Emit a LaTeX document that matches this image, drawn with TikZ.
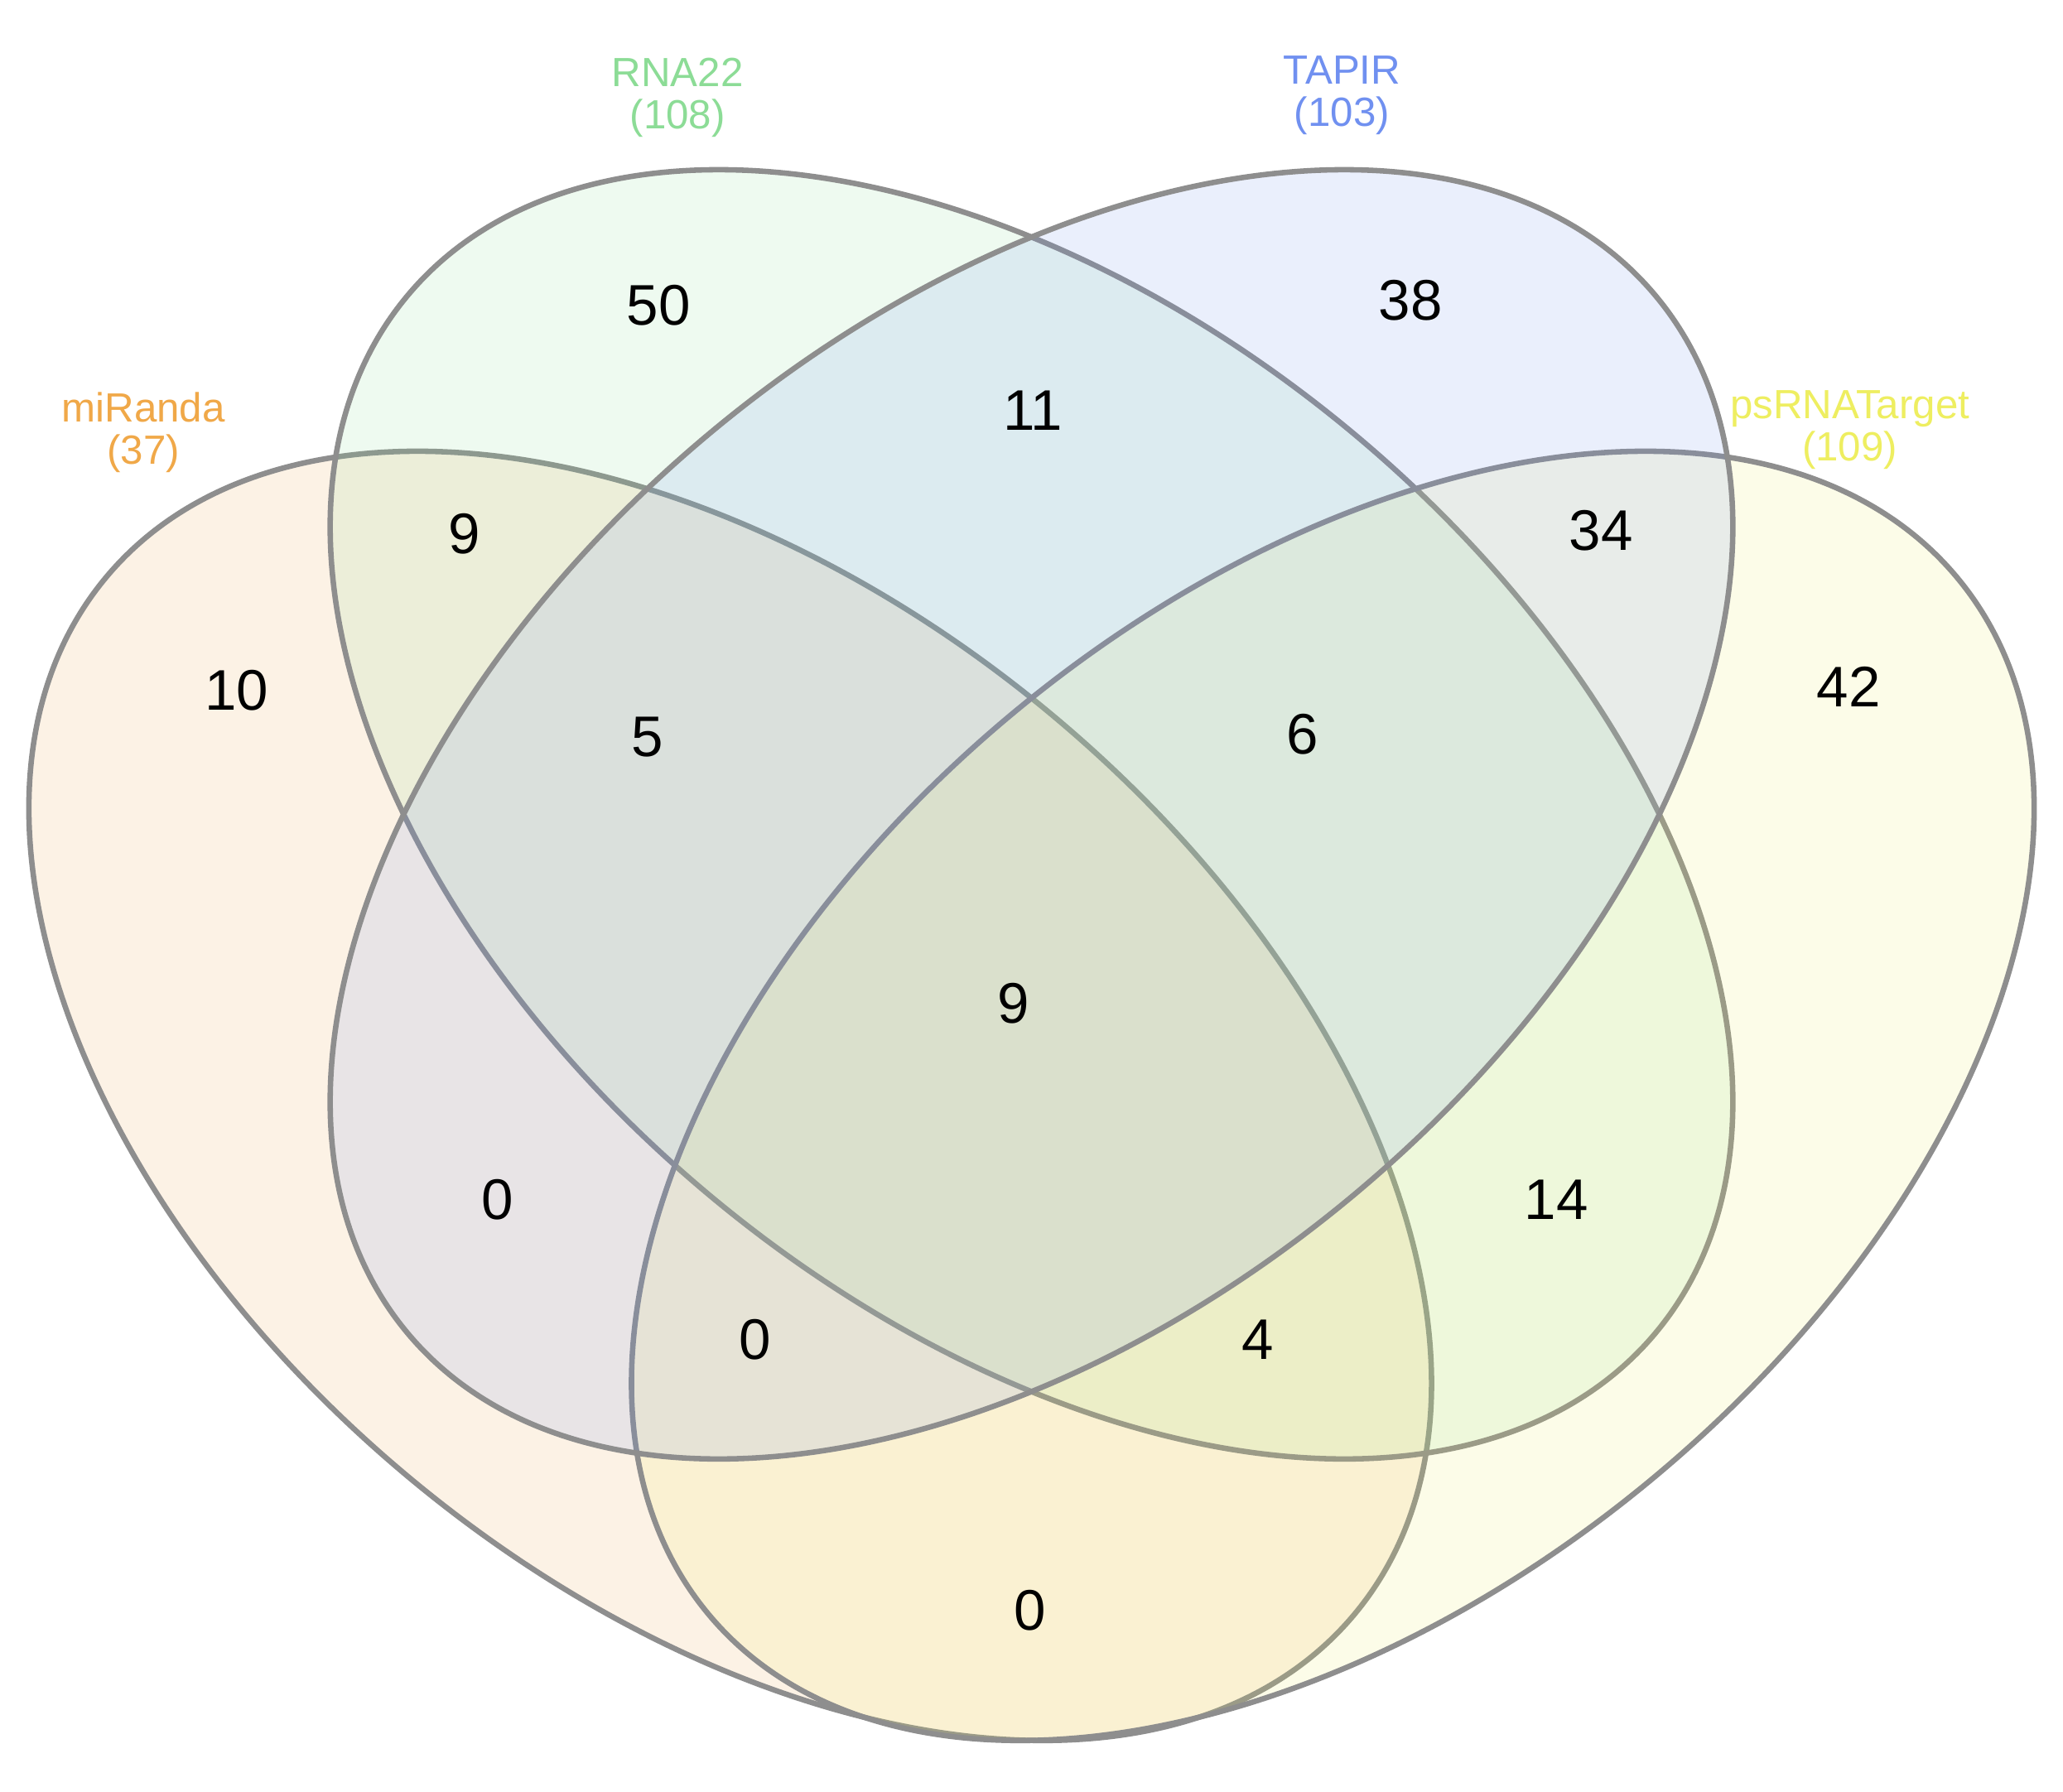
\documentclass[tikz,border=0pt]{standalone}
\usepackage{fontspec}
\setmainfont{Liberation Sans}
\definecolor{cOrange}{RGB}{240,168,72}
\definecolor{cGreen}{RGB}{140,220,150}
\definecolor{cBlue}{RGB}{112,144,240}
\definecolor{cYellow}{RGB}{238,238,96}
\definecolor{cStroke}{RGB}{142,142,142}
\begin{document}
\begin{tikzpicture}[x=0.4pt,y=0.4pt,
  setline/.style={draw=cStroke, line width=1.65pt},
  num/.style={inner sep=0pt, font=\fontsize{17.4}{20}\selectfont, text=black},
  lab/.style={inner sep=0pt, align=center, font=\fontsize{12.4}{12.8}\selectfont, anchor=base}]
\useasboundingbox (0,0) rectangle (1568,-1361.6);
\fill[white] (0,0) rectangle (1568,-1361.6);
% miRanda
\begin{scope}[shift={(555,-833)}, rotate=-39.65]
  \draw[setline, fill=cOrange, fill opacity=0.14] (0,0) ellipse [x radius=616.8, y radius=379.1];
\end{scope}
% RNA22
\begin{scope}[shift={(784,-619)}, rotate=-39.65]
  \draw[setline, fill=cGreen, fill opacity=0.14] (0,0) ellipse [x radius=616.8, y radius=379.1];
\end{scope}
% psRNATarget
\begin{scope}[shift={(1013,-833)}, rotate=39.65]
  \draw[setline, fill=cYellow, fill opacity=0.14] (0,0) ellipse [x radius=616.8, y radius=379.1];
\end{scope}
% TAPIR
\begin{scope}[shift={(784,-619)}, rotate=39.65]
  \draw[setline, fill=cBlue, fill opacity=0.14] (0,0) ellipse [x radius=616.8, y radius=379.1];
\end{scope}
% set labels (anchor at the baseline of the second line)
\node[lab, text=cGreen] (labRNA) at (515,-98) {RNA22\\(108)};
\node[lab, text=cBlue] (labTAPIR) at (1020,-96) {TAPIR\\(103)};
\node[lab, text=cOrange] (labmiR) at (109,-353) {miRanda\\(37)};
\node[lab, text=cYellow] (labps) at (1406,-350) {psRNATarget\\(109)};
% region counts
\node[num] (n50) at (500.5,-232) {50};
\node[num] (n38) at (1072,-228) {38};
\node[num] (n11) at (785,-312) {11};
\node[num] (n9a) at (353,-406) {9};
\node[num] (n34) at (1217,-403) {34};
\node[num] (n10) at (180,-525) {10};
\node[num] (n42) at (1405,-522) {42};
\node[num] (n5) at (492,-560) {5};
\node[num] (n6) at (990,-558) {6};
\node[num] (n9b) at (770.5,-763) {9};
\node[num] (n0a) at (378,-912) {0};
\node[num] (n14) at (1183,-912) {14};
\node[num] (n0b) at (574,-1018) {0};
\node[num] (n4) at (956,-1018) {4};
\node[num] (n0c) at (783,-1224) {0};
\end{tikzpicture}
\end{document}
